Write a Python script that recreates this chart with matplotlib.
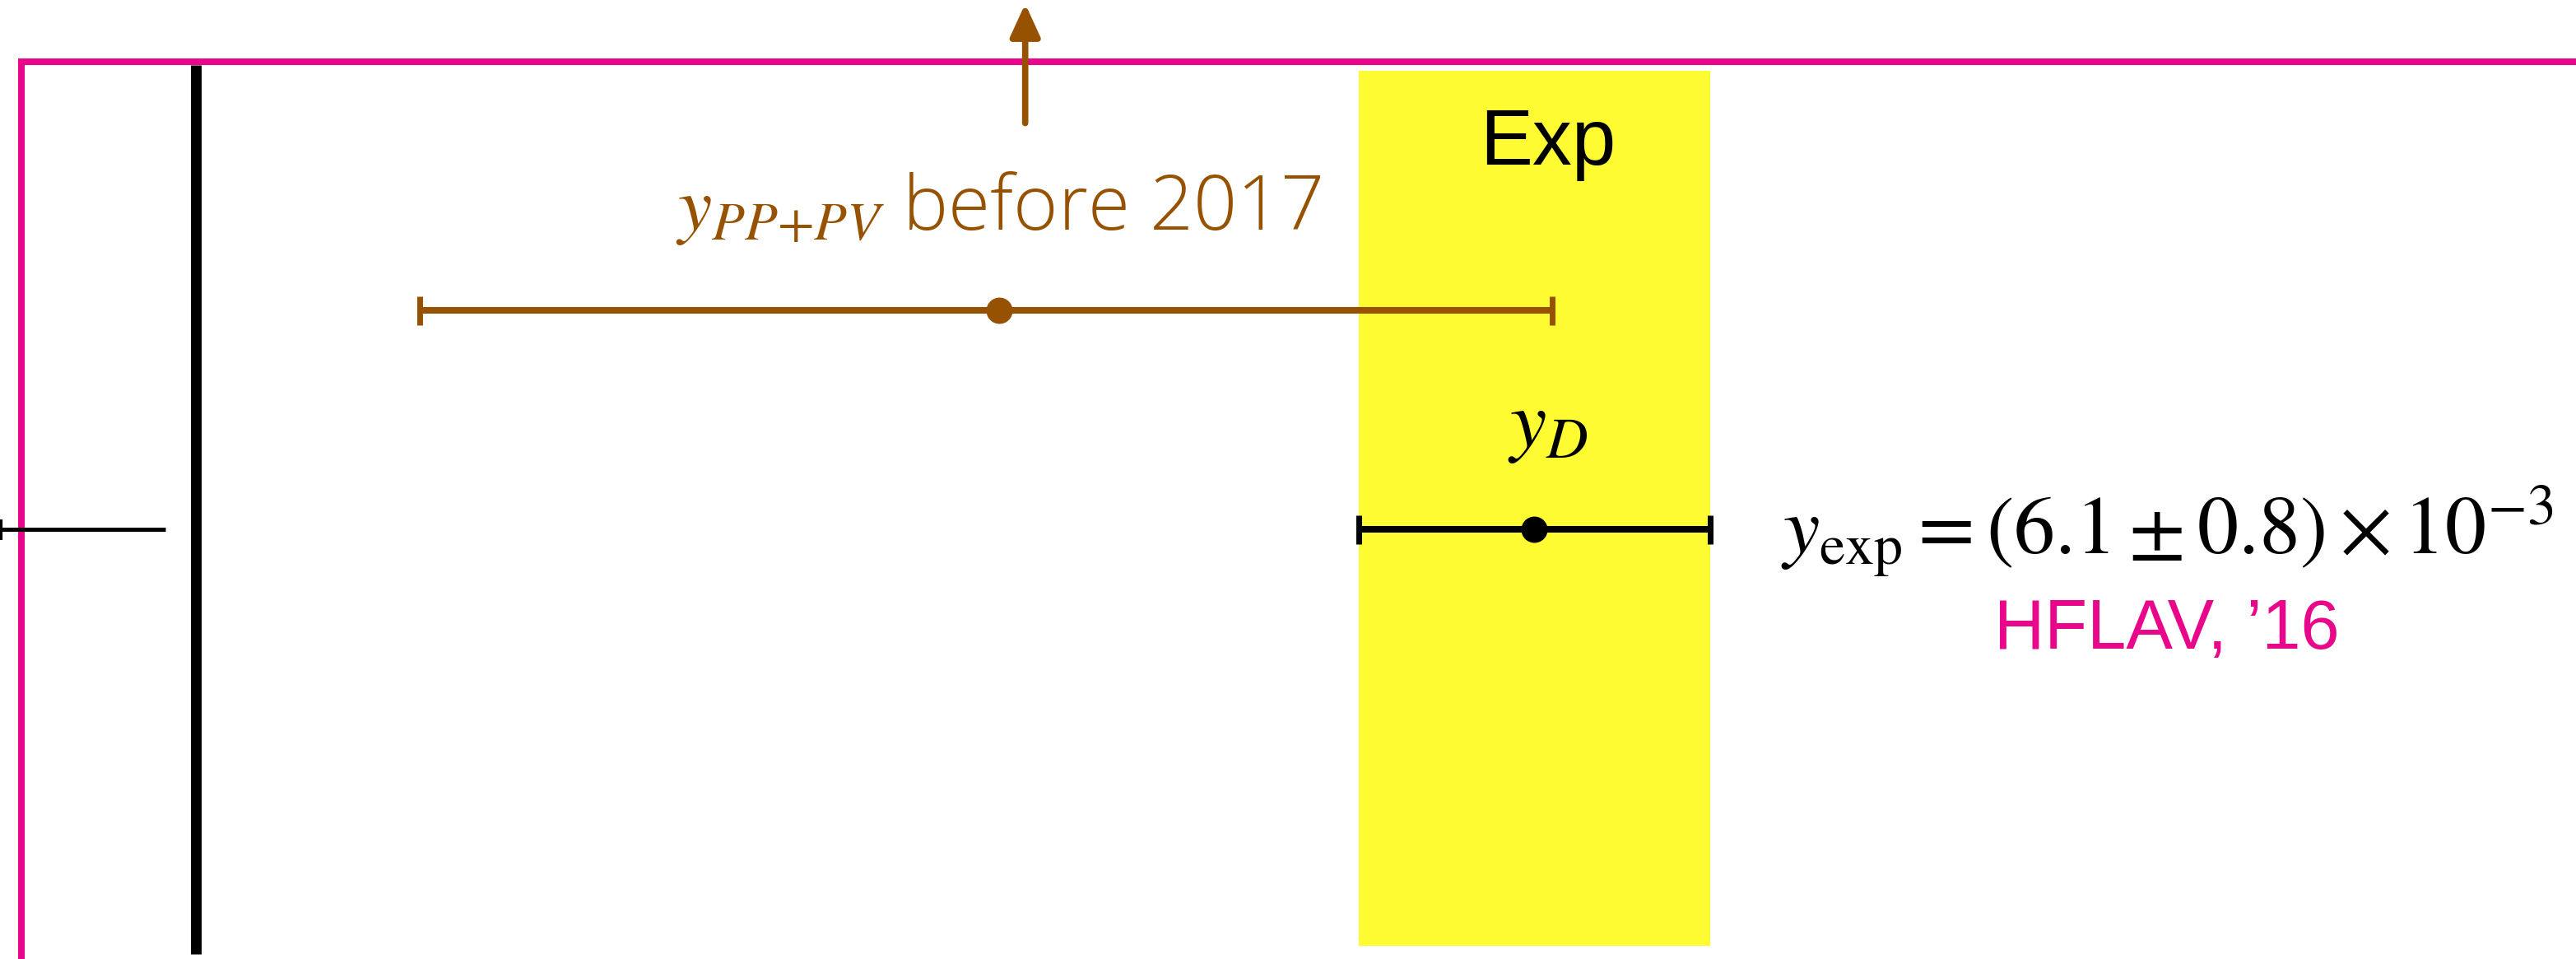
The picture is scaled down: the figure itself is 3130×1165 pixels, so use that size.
import numpy as np
import matplotlib
matplotlib.use("Agg")
import matplotlib.pyplot as plt

plt.rcParams['mathtext.fontset'] = 'stix'

# values in units of 10^-3
y_exp = 6.1
y_exp_err = 0.8

y_pp_pv = 3.66
y_pp_pv_lo = 1.02
y_pp_pv_hi = 6.18

# rows on the vertical axis
row_exp = 0.0
row_pp_pv = 1.0

labels = {
    "exp": "Exp",
    "yd": r"$y_D$",
    "pp_pv": r"$y_{PP{+}PV}$ before 2017",
    "result": r"$y_{\rm exp} = (6.1 \pm 0.8) \times 10^{-3}$",
    "source": "HFLAV, \u201916",
}

magenta = "#E8078A"
brown = "#965200"
yellow = "#FFFB33"

fig = plt.figure(figsize=(31.3, 11.65), dpi=100)
ax = fig.add_axes([0, 0, 1, 1])
ax.set_xlim(-0.8905, 10.845)
ax.set_ylim(-1.9624, 2.4173)
ax.axis('off')

# experimental band
ax.axvspan(y_exp - y_exp_err, y_exp + y_exp_err, ymin=0.0137, ymax=0.926,
           color=yellow, lw=0, zorder=1)

# magenta frame (top and left)
ax.plot([-0.793, -0.793, 11.0], [-2.1, 2.135, 2.135], color=magenta, lw=5.8,
        solid_joinstyle='miter', solid_capstyle='butt', zorder=2)

# black line at zero
ax.vlines(0.0, -1.94, 2.12, color='black', lw=9.4, capstyle='butt', zorder=2)

# stub of the neighbouring measurement on the left
ax.plot([-0.8905, -0.137], [row_exp, row_exp], color='black', lw=3.6,
        solid_capstyle='butt', zorder=3)
ax.plot([-0.887], [row_exp], marker='|', ms=18, mew=3, color='black', zorder=3)

# y_exp point
ax.errorbar([y_exp], [row_exp], xerr=[[y_exp_err], [y_exp_err]], fmt='o',
            color='black', ms=22, elinewidth=5.8, capsize=12.6, capthick=5,
            zorder=4)

# y_PP+PV point
ax.errorbar([y_pp_pv], [row_pp_pv],
            xerr=[[y_pp_pv - y_pp_pv_lo], [y_pp_pv_hi - y_pp_pv]], fmt='o',
            color=brown, ms=22, elinewidth=5.8, capsize=12.6, capthick=5,
            zorder=4)

# arrow pointing upward out of the frame
ax.annotate("", xy=(3.78, 2.40), xytext=(3.78, 1.855),
            arrowprops=dict(arrowstyle='-|>,head_length=1.2,head_width=0.55',
                            color=brown, lw=5.5, mutation_scale=20,
                            shrinkA=0, shrinkB=0),
            zorder=4)

# labels
ax.text(6.16, 1.665, labels["exp"], ha='center', va='baseline', fontsize=69,
        family='Liberation Sans', color='black', zorder=5)
ax.text(6.16, 0.375, labels["yd"], ha='center', va='baseline', fontsize=72,
        color='black', zorder=5)
ax.text(3.66, 1.368, labels["pp_pv"], ha='center', va='baseline', fontsize=67,
        family='Open Sans', fontweight='light', color=brown, zorder=5)
ax.text(8.98, -0.11, labels["result"], ha='center', va='baseline',
        fontsize=72, color='black', zorder=5)
ax.text(8.98, -0.545, labels["source"], ha='center', va='baseline',
        fontsize=61, family='Liberation Sans', color=magenta, zorder=5)

plt.savefig("out.png", dpi=100)
